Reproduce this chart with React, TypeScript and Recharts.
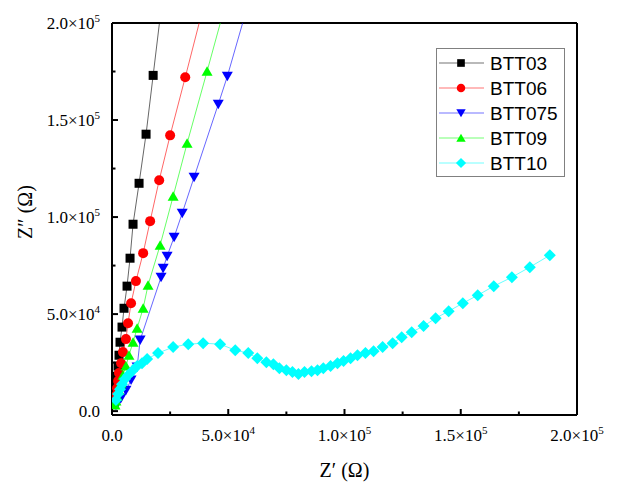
import * as React from 'react';
import { ScatterChart, Scatter, XAxis, YAxis, ReferenceLine, Legend } from 'recharts';

// Nyquist data, Z' (x) and Z'' (y) in ohm
const btt03X = [700, 860, 1290, 1720, 2150, 2590, 3020, 3450, 4310, 5170, 6470, 7760, 9050, 11640, 14650, 17700, 21600];
const btt03Y = [4600, 7200, 10300, 13900, 18000, 23200, 28800, 35500, 43300, 53000, 64400, 78800, 96300, 117400, 142700, 173000, 212000];

const btt06X = [860, 1300, 1720, 2150, 2600, 3000, 3900, 4700, 6000, 6900, 8200, 10300, 13400, 16400, 20300, 25000, 31500, 39000];
const btt06Y = [3600, 5700, 8200, 11800, 15500, 19600, 24700, 30400, 37100, 45300, 55600, 67000, 81400, 97900, 119000, 142100, 172000, 207000];

const btt075X = [1700, 2600, 3900, 6000, 8200, 10800, 12100, 21100, 22000, 23700, 26700, 30200, 35300, 45700, 49600, 56800];
const btt075Y = [3000, 4600, 6700, 10800, 16000, 22700, 36600, 69000, 73600, 79800, 89600, 102000, 120500, 158100, 172500, 202500];

const btt09X = [1300, 1720, 2150, 3000, 3900, 4700, 6000, 7300, 9050, 10800, 13400, 15500, 20700, 26300, 32300, 40900, 47500];
const btt09Y = [3100, 5200, 7700, 10800, 14400, 18500, 23200, 28800, 35500, 42700, 53000, 64900, 85500, 110700, 138000, 175100, 204000];

const btt10X = [1700, 2600, 3450, 4300, 5600, 6900, 8600, 10800, 12900, 15100, 19800, 26300, 32800, 39200, 46500, 53000, 58600, 62500, 66400, 69400, 72000, 75000, 77600, 80200, 82800, 85800, 88400, 90900, 94000, 97000, 99600, 102600, 105600, 109000, 112500, 116400, 120700, 124600, 128900, 134000, 139200, 144800, 150900, 157300, 164200, 172000, 179700, 188300];
const btt10Y = [5700, 8800, 11300, 13900, 16500, 18500, 20600, 23200, 24700, 26800, 29900, 33000, 34500, 35000, 34500, 31400, 29900, 27300, 25200, 24200, 22100, 21100, 20100, 19100, 20100, 20600, 21100, 22100, 23200, 24700, 25800, 27300, 28800, 29900, 30900, 33000, 35000, 38100, 40700, 43800, 47900, 51500, 55600, 59700, 64400, 69000, 74200, 80300];

const xTicks = [0, 25000, 50000, 75000, 100000, 125000, 150000, 175000, 200000];
const yTicks = [0, 25000, 50000, 75000, 100000, 125000, 150000, 175000, 200000];
const majorTicks = [0, 50000, 100000, 150000, 200000];

const zip = (xs: number[], ys: number[]) => xs.map((x, i) => ({ x, y: ys[i] }));

const series = [
  { name: 'BTT03', color: '#000000', kind: 'square', data: zip(btt03X, btt03Y) },
  { name: 'BTT06', color: '#ff0000', kind: 'circle', data: zip(btt06X, btt06Y) },
  { name: 'BTT075', color: '#0000ff', kind: 'down', data: zip(btt075X, btt075Y) },
  { name: 'BTT09', color: '#00ff00', kind: 'up', data: zip(btt09X, btt09Y) },
  { name: 'BTT10', color: '#00ffff', kind: 'diamond', data: zip(btt10X, btt10Y) },
];

const serif = '"Liberation Serif", "Times New Roman", serif';
const sans = '"Liberation Sans", Arial, sans-serif';

function Marker({ kind, cx, cy, color, k = 1 }: any) {
  if (cx == null || cy == null) return null;
  if (kind === 'square') return <rect x={cx - 4.5 * k} y={cy - 4.5 * k} width={9 * k} height={9 * k} fill={color} />;
  if (kind === 'circle') return <circle cx={cx} cy={cy} r={5 * k} fill={color} />;
  if (kind === 'down')
    return <polygon points={`${cx - 5.5 * k},${cy - 4.5 * k} ${cx + 5.5 * k},${cy - 4.5 * k} ${cx},${cy + 5 * k}`} fill={color} />;
  if (kind === 'up')
    return <polygon points={`${cx - 5.5 * k},${cy + 4.5 * k} ${cx + 5.5 * k},${cy + 4.5 * k} ${cx},${cy - 5 * k}`} fill={color} />;
  return <polygon points={`${cx},${cy - 6 * k} ${cx + 6 * k},${cy} ${cx},${cy + 6 * k} ${cx - 6 * k},${cy}`} fill={color} />;
}

// 0 -> "0.0", 50000 -> "5.0×10" + sup "4"
function TickText({ value, ...rest }: any) {
  if (value === 0) return <text {...rest}>0.0</text>;
  const e = Math.floor(Math.log10(value));
  const m = (value / Math.pow(10, e)).toFixed(1);
  return (
    <text {...rest}>
      {m}×10<tspan dy={-7} fontSize={11}>{e}</tspan>
    </text>
  );
}

function XTick({ x, y, payload }: any) {
  const major = majorTicks.includes(payload.value);
  return (
    <g>
      <line x1={x} x2={x} y1={y} y2={y - (major ? 6 : 3.5)} stroke="#000" strokeWidth={2} />
      {major && (
        <TickText value={payload.value} x={x} y={y + 26} textAnchor="middle" fontSize={17} fontFamily={serif} fill="#000" />
      )}
    </g>
  );
}

function YTick({ x, y, payload }: any) {
  const major = majorTicks.includes(payload.value);
  return (
    <g>
      <line x1={x} x2={x + (major ? 6 : 3.5)} y1={y} y2={y} stroke="#000" strokeWidth={2} />
      {major && (
        <TickText value={payload.value} x={x - 12} y={y + 6} textAnchor="end" fontSize={17} fontFamily={serif} fill="#000" />
      )}
    </g>
  );
}

function LegendBox() {
  return (
    <div style={{ width: 129, height: 129, border: '1px solid #808080', boxSizing: 'border-box', background: '#fff' }}>
      <svg width={127} height={127} style={{ display: 'block' }}>
        {series.map((s, i) => {
          const cy = 14 + i * 25;
          return (
            <g key={s.name}>
              <line x1={2} x2={47} y1={cy} y2={cy} stroke={s.color} strokeOpacity={0.55} />
              <Marker kind={s.kind} cx={24} cy={cy} color={s.color} k={0.85} />
              <text x={53} y={cy + 7} fontSize={19} fontFamily={sans} fill="#000">
                {s.name}
              </text>
            </g>
          );
        })}
      </svg>
    </div>
  );
}

export default function App() {
  return (
    <div style={{ position: 'absolute', left: 0, top: 0, width: 644, height: 482, background: '#fff' }}>
      <ScatterChart width={644} height={482} margin={{ top: 23, right: 67, bottom: 0, left: 0 }}>
        <XAxis
          type="number"
          dataKey="x"
          domain={[0, 200000]}
          ticks={xTicks}
          interval={0}
          allowDataOverflow
          height={67}
          tickSize={0}
          tickMargin={0}
          tickLine={false}
          axisLine={{ stroke: '#000', strokeWidth: 2 }}
          tick={XTick}
          label={({ viewBox }: any) => (
            <text
              x={viewBox ? viewBox.x + viewBox.width / 2 : 344}
              y={477}
              textAnchor="middle"
              fontSize={20}
              fontFamily={serif}
              fill="#000"
            >
              Z′ (Ω)
            </text>
          )}
        />
        <YAxis
          type="number"
          dataKey="y"
          domain={[-2000, 200000]}
          ticks={yTicks}
          interval={0}
          allowDataOverflow
          width={112}
          tickSize={0}
          tickMargin={0}
          tickLine={false}
          axisLine={{ stroke: '#000', strokeWidth: 2 }}
          tick={YTick}
          label={() => (
            <text x={32} y={212} transform="rotate(-90 32 212)" textAnchor="middle" fontSize={20} fontFamily={serif} fill="#000">
              Z″ (Ω)
            </text>
          )}
        />
        <ReferenceLine y={200000} stroke="#000" strokeWidth={2} />
        <ReferenceLine x={200000} stroke="#000" strokeWidth={2} />
        {series.map((s) => (
          <Scatter
            key={s.name}
            name={s.name}
            data={s.data}
            fill={s.color}
            line={{ stroke: s.color, strokeWidth: 1, strokeOpacity: 0.6 }}
            lineType="joint"
            isAnimationActive={false}
            shape={(p: any) => <Marker kind={s.kind} cx={p.cx} cy={p.cy} color={s.color} />}
          />
        ))}
        <Legend
          layout="horizontal"
          verticalAlign="middle"
          align="center"
          wrapperStyle={{ left: 436, top: 48, width: 129, height: 129 }}
          content={() => <LegendBox />}
        />
      </ScatterChart>
    </div>
  );
}
